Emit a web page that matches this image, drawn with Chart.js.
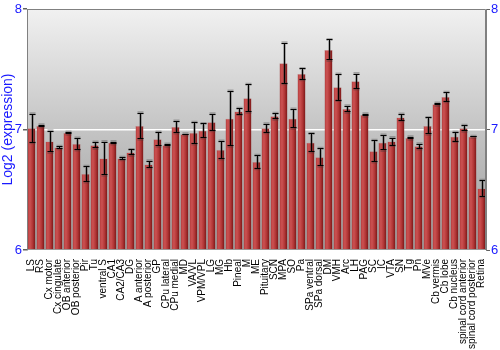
<!DOCTYPE html>
<html>
<head>
<meta charset="utf-8">
<script src="https://cdn.jsdelivr.net/npm/chart.js@4/dist/chart.umd.min.js"></script>
<style>
html,body{margin:0;padding:0;background:#fff;}
#wrap{width:500px;height:350px;}
</style>
</head>
<body>
<div id="wrap"><canvas id="c" width="500" height="350"></canvas></div>
<script>
const categories = ["LS","RS","Cx motor","Cx cingulate","OB anterior","OB posterior","Pir","Tu","ventral S","CA1","CA2/CA3","DG","A anterior","A posterior","GP","CPu lateral","CPu medial","MD","VA/VL","VPM/VPL","LG","MG","Hb","Pineal","M","ME","Pituitary","SCN","MPA","SO","Pa","SPa ventral","SPa dorsal","DM","VMH","Arc","LH","PAG","SC","IC","VTA","SN","Tg","Pn","MVe","Cb vermis","Cb lobe","Cb nucleus","spinal cord anterior","spinal cord posterior","Retina"];
const expression = [7.01,7.03,6.90,6.85,6.97,6.88,6.63,6.87,6.76,6.89,6.76,6.81,7.03,6.71,6.92,6.87,7.02,6.96,6.97,6.99,7.06,6.83,7.09,7.15,7.26,6.73,7.01,7.11,7.55,7.09,7.46,6.89,6.77,7.66,7.35,7.17,7.40,7.12,6.82,6.89,6.90,7.10,6.93,6.86,7.03,7.21,7.27,6.94,7.01,6.94,6.51];
const errors = [0.12,0.01,0.09,0.01,0.01,0.05,0.065,0.027,0.14,0.01,0.01,0.025,0.11,0.03,0.06,0.01,0.05,0.005,0.09,0.06,0.07,0.075,0.23,0.026,0.116,0.056,0.037,0.025,0.17,0.08,0.047,0.077,0.075,0.087,0.11,0.028,0.064,0.01,0.09,0.064,0.033,0.028,0.01,0.022,0.07,0.01,0.04,0.04,0.025,0.005,0.068];
const yTicks = [6,7,8];

const blue = '#1a1aff';

const bgPlugin = {
  id: 'bg',
  beforeDraw(chart) {
    const {ctx, chartArea: a} = chart;
    const g = ctx.createLinearGradient(0, a.top, 0, a.bottom);
    g.addColorStop(0, '#f1f1f1');
    g.addColorStop(0.5, '#c4c4c4');
    g.addColorStop(1, '#9c9c9c');
    ctx.save();
    ctx.fillStyle = g;
    ctx.fillRect(a.left, a.top, a.right - a.left, a.bottom - a.top);
    ctx.restore();
  },
  afterDraw(chart) {
    const {ctx, chartArea: a} = chart;
    ctx.save();
    ctx.strokeStyle = '#808080';
    ctx.lineWidth = 1;
    ctx.beginPath();
    ctx.moveTo(a.left + 0.5, a.bottom);
    ctx.lineTo(a.left + 0.5, a.top + 0.5);
    ctx.lineTo(a.right - 0.5, a.top + 0.5);
    ctx.lineTo(a.right - 0.5, a.bottom);
    ctx.stroke();
    ctx.restore();
  }
};

const errPlugin = {
  id: 'errbars',
  afterDatasetsDraw(chart) {
    const {ctx} = chart;
    const xs = chart.scales.x, ys = chart.scales.y;
    ctx.save();
    for (let i = 0; i < expression.length; i++) {
      const x = Math.round(xs.getPixelForValue(i)) + 0.5;
      const yHi = ys.getPixelForValue(expression[i] + errors[i]);
      const yLo = ys.getPixelForValue(expression[i] - errors[i]);
      ctx.strokeStyle = 'rgba(60,60,60,0.35)';
      ctx.lineWidth = 3;
      ctx.beginPath();
      ctx.moveTo(x, yHi); ctx.lineTo(x, yLo);
      ctx.moveTo(x - 3, yHi); ctx.lineTo(x + 3, yHi);
      ctx.moveTo(x - 3, yLo); ctx.lineTo(x + 3, yLo);
      ctx.stroke();
      ctx.strokeStyle = '#000';
      ctx.lineWidth = 1;
      ctx.beginPath();
      ctx.moveTo(x, Math.round(yHi)); ctx.lineTo(x, Math.round(yLo));
      ctx.moveTo(x - 3, Math.round(yHi) + 0.5); ctx.lineTo(x + 3, Math.round(yHi) + 0.5);
      ctx.moveTo(x - 3, Math.round(yLo) - 0.5); ctx.lineTo(x + 3, Math.round(yLo) - 0.5);
      ctx.stroke();
    }
    ctx.restore();
  }
};

function barFill(c) {
  const chart = c.chart;
  const xs = chart.scales && chart.scales.x;
  if (!xs || c.dataIndex === undefined) return '#b03a3a';
  const x = xs.getPixelForValue(c.dataIndex);
  if (!isFinite(x)) return '#b03a3a';
  const w = 8;
  const g = chart.ctx.createLinearGradient(x - w / 2, 0, x + w / 2, 0);
  g.addColorStop(0, '#b23a3a');
  g.addColorStop(0.3, '#cc5252');
  g.addColorStop(0.65, '#b03535');
  g.addColorStop(1, '#761414');
  return g;
}

new Chart(document.getElementById('c'), {
  type: 'bar',
  data: {
    labels: categories,
    datasets: [{
      data: expression,
      base: 6,
      backgroundColor: barFill,
      borderColor: 'rgba(170,120,120,0.6)',
      borderWidth: 0.5,
      barPercentage: 0.92,
      categoryPercentage: 1.0
    }]
  },
  options: {
    responsive: false,
    animation: false,
    devicePixelRatio: 1,
    layout: { padding: { top: 9, left: 0, right: 0, bottom: 0 } },
    plugins: { legend: { display: false }, tooltip: { enabled: false } },
    scales: {
      x: {
        grid: { display: false },
        border: { display: false },
        ticks: {
          autoSkip: false, maxRotation: 90, minRotation: 90,
          color: '#000', padding: 1,
          font: { family: 'Liberation Sans', size: 10 }
        },
        afterFit(s) { s.height = 100; }
      },
      y: {
        position: 'left',
        min: 6, max: 8,
        afterBuildTicks(s) { s.ticks = yTicks.map(v => ({ value: v })); },
        grid: {
          color: c => (c.tick && c.tick.value === 7) ? '#ffffff' : 'rgba(0,0,0,0)',
          lineWidth: 1.5,
          tickColor: '#606060', tickLength: 4, drawTicks: true
        },
        border: { display: true, color: '#808080' },
        ticks: { color: blue, padding: 1, font: { family: 'Liberation Sans', size: 13 } },
        title: { display: true, text: 'Log2 (expression)', color: blue, padding: 0, font: { family: 'Liberation Sans', size: 14 } },
        afterFit(s) { s.width = 27; }
      },
      y2: {
        position: 'right',
        min: 6, max: 8,
        afterBuildTicks(s) { s.ticks = yTicks.map(v => ({ value: v })); },
        grid: { drawOnChartArea: false, color: '#606060', tickColor: '#606060', tickLength: 4 },
        border: { display: true, color: '#808080' },
        ticks: { color: blue, padding: 1, font: { family: 'Liberation Sans', size: 13 } },
        afterFit(s) { s.width = 14; }
      }
    }
  },
  plugins: [bgPlugin, errPlugin]
});
</script>
</body>
</html>
